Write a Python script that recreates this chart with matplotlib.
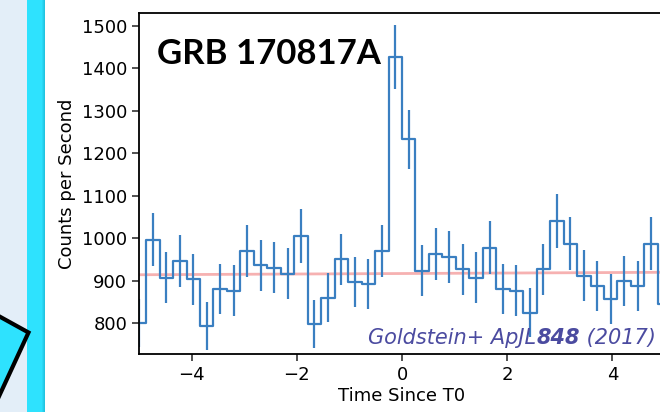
import numpy as np
import matplotlib
matplotlib.use("Agg")
import matplotlib.pyplot as plt
from matplotlib.patches import Polygon, Rectangle

# ---- data ----
bin_width = 0.256
time = [-4.992, -4.736, -4.48, -4.224, -3.968, -3.712, -3.456, -3.2, -2.944, -2.688,
        -2.432, -2.176, -1.92, -1.664, -1.408, -1.152, -0.896, -0.64, -0.384, -0.128,
        0.128, 0.384, 0.64, 0.896, 1.152, 1.408, 1.664, 1.92, 2.176, 2.432,
        2.688, 2.944, 3.2, 3.456, 3.712, 3.968, 4.224, 4.48, 4.736, 4.992]
counts = [801, 997, 907, 946, 903, 794, 881, 877, 970, 936,
          931, 916, 1005, 798, 860, 950, 898, 892, 970, 1427,
          1233, 923, 963, 955, 927, 907, 978, 880, 877, 825,
          927, 1041, 987, 912, 888, 857, 899, 888, 987, 845]
errors = [56, 62, 60, 61, 59, 56, 59, 59, 62, 60,
          60, 60, 63, 56, 58, 61, 59, 59, 62, 75,
          69, 60, 61, 61, 60, 60, 62, 59, 59, 57,
          60, 64, 62, 60, 59, 58, 59, 59, 62, 58]
bkg_time = [-5.2, 5.2]
bkg_rate = [914, 920]
xticks = [-4, -2, 0, 2, 4]
yticks = [800, 900, 1000, 1100, 1200, 1300, 1400, 1500]

W, H = 660, 412
fig = plt.figure(figsize=(W / 100, H / 100), dpi=100)
fig.patch.set_facecolor("white")

# ---- slide decorations on the left ----
bg = fig.add_axes([0, 0, 1, 1], zorder=-10)
bg.set_xlim(0, W)
bg.set_ylim(H, 0)
bg.axis("off")
bg.add_patch(Rectangle((0, 0), 27, H, facecolor="#E3EEF8", edgecolor="none"))
bg.add_patch(Rectangle((27, 0), 18, H, facecolor="#2EE2FE", edgecolor="none"))
for i, c in enumerate(["#2AD8F5", "#25CDEA", "#22C4E0"]):
    bg.add_patch(Rectangle((42 + i, 0), 1, H, facecolor=c, edgecolor="none"))
bg.add_patch(Polygon([(-5, 314), (28.5, 332.5), (-5, 405)], closed=True,
                     facecolor="#2EE2FE", edgecolor="black", linewidth=3,
                     joinstyle="miter"))

# ---- main chart ----
ax = fig.add_axes([139 / W, (H - 354.3) / H, (665 - 139) / W, (354.3 - 12.7) / H])
blue = "#3a7fc1"
ax.plot(bkg_time, bkg_rate, color="#F5A9A9", linewidth=2, alpha=0.9, zorder=1)
ax.step(time, counts, where="mid", color=blue, linewidth=1.6, zorder=2)
ax.errorbar(time, counts, yerr=errors, fmt="none", ecolor=blue, elinewidth=1.6, zorder=2)

ax.set_xlim(-5, 5)
ax.set_ylim(727, 1530.5)
ax.set_xticks(xticks)
ax.set_yticks(yticks)
ax.set_xticklabels([f"\u2212{abs(v)}" if v < 0 else str(v) for v in xticks])
ax.tick_params(labelsize=13, length=5, width=1.2, color="#333333")
for s in ax.spines.values():
    s.set_linewidth(1.3)
ax.set_xlabel("Time Since T0", fontsize=13, labelpad=2)
ax.set_ylabel("Counts per Second", fontsize=13, labelpad=4)

ax.text(157 / W, (H - 64) / H, "GRB 170817A", transform=fig.transFigure,
        fontsize=25, fontweight="bold", family="Lato", color="black",
        ha="left", va="baseline")

# citation, drawn in pieces from the right edge leftwards
cite_color = "#4B4BA0"
renderer = fig.canvas.get_renderer()
pieces = [(" (2017)", "normal"), ("848", "bold"), ("Goldstein+ ApJL", "normal")]
x_right = 656
for txt, wt in pieces:
    t = fig.text(x_right / W, (H - 344) / H, txt, fontsize=15, style="italic",
                 fontweight=wt, family="DejaVu Sans", color=cite_color,
                 ha="right", va="baseline")
    bb = t.get_window_extent(renderer=renderer)
    x_right -= bb.width

fig.savefig("out.png", dpi=100)
